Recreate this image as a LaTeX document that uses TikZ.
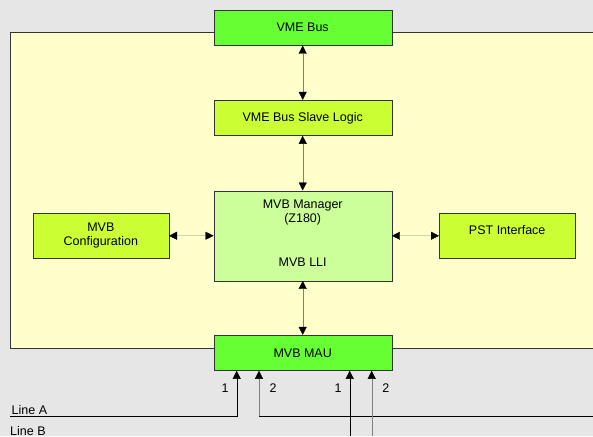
\documentclass[tikz,border=0pt]{standalone}
\usepackage{fontspec}
\setmainfont{Liberation Sans}
\usepackage{tikz}
\usetikzlibrary{arrows.meta}
\usetikzlibrary{positioning}

\definecolor{bggray}{HTML}{E6E6E6}
\definecolor{cream}{HTML}{FFFFCC}
\definecolor{busgreen}{HTML}{66FF33}
\definecolor{limegreen}{HTML}{CCFF33}
\definecolor{palegreen}{HTML}{CCFF99}

\begin{document}
\begin{tikzpicture}[x=1pt,y=-1pt,font=\fontsize{12.5}{14.3}\selectfont,
  blk/.style={draw=black!80,inner sep=0pt,minimum width=178,minimum height=35.5},
  link/.style={draw=black!50,{Triangle[length=8pt,width=8pt,black]}-{Triangle[length=8pt,width=8pt,black]}},
  feed/.style={-{Triangle[length=8pt,width=8pt,black]}},
  num/.style={inner sep=0pt,text=black}]
  \fill[bggray](0,0) rectangle (593,436);
  \clip(0,0) rectangle (593,436);
  \draw[fill=cream,draw=black!80](10.5,32.5) rectangle (600,348.3);

  \node (1) at (302.7,27.7)[blk,fill=busgreen]{VME Bus};
  \node (2) at (302.7,117.8)[blk,fill=limegreen]{VME Bus Slave Logic};
  \node (3) at (302.7,235.7)[blk,fill=palegreen,minimum height=90,
    label={[align=center,yshift=23pt]center:MVB Manager\\(Z180)},
    label={[yshift=-26.3pt]center:MVB LLI}]{};
  \node (4) at (100.8,235.8)[blk,fill=limegreen,minimum width=136,minimum height=45,align=center]{MVB\\Configuration};
  \node (5) at (507.2,235.8)[blk,fill=limegreen,minimum width=136,minimum height=45,
    label={[yshift=5.8pt]center:PST Interface}]{};
  \node (6) at (302.7,352.8)[blk,fill=busgreen]{MVB MAU};

  \draw[link](1)--(2);
  \draw[link](2)--(3);
  \draw[link](3)--(6);
  \draw[link](4)--(3);
  \draw[link](3)--(5);

  \coordinate (a) at (10,416.3);
  \coordinate (b) at (600,416.3);
  \coordinate (c) at (349.7,436);
  \coordinate (d) at (371.7,436);
  \coordinate (m1) at ([xshift=-66pt]6.south);
  \coordinate (m2) at ([xshift=-43.7pt]6.south);

  \node[anchor=south west,inner sep=1.5pt] at (a){Line A};
  \node[anchor=base west,inner sep=0pt] at (10,435.5){Line B};

  \draw[feed](a) -| node[pos=0.81,num,left=8pt]{1} (m1);
  \draw(b) -- (b -| m2);
  \draw[feed,black!50](b -| m2) -- node[pos=0.62,num,right=10.5pt]{2} (m2);
  \draw[feed](c) -- node[pos=0.735,num,left=8pt]{1} (c |- 6.south);
  \draw[feed,black!50](d) -- node[pos=0.735,num,right=10.5pt]{2} (d |- 6.south);
\end{tikzpicture}
\end{document}
